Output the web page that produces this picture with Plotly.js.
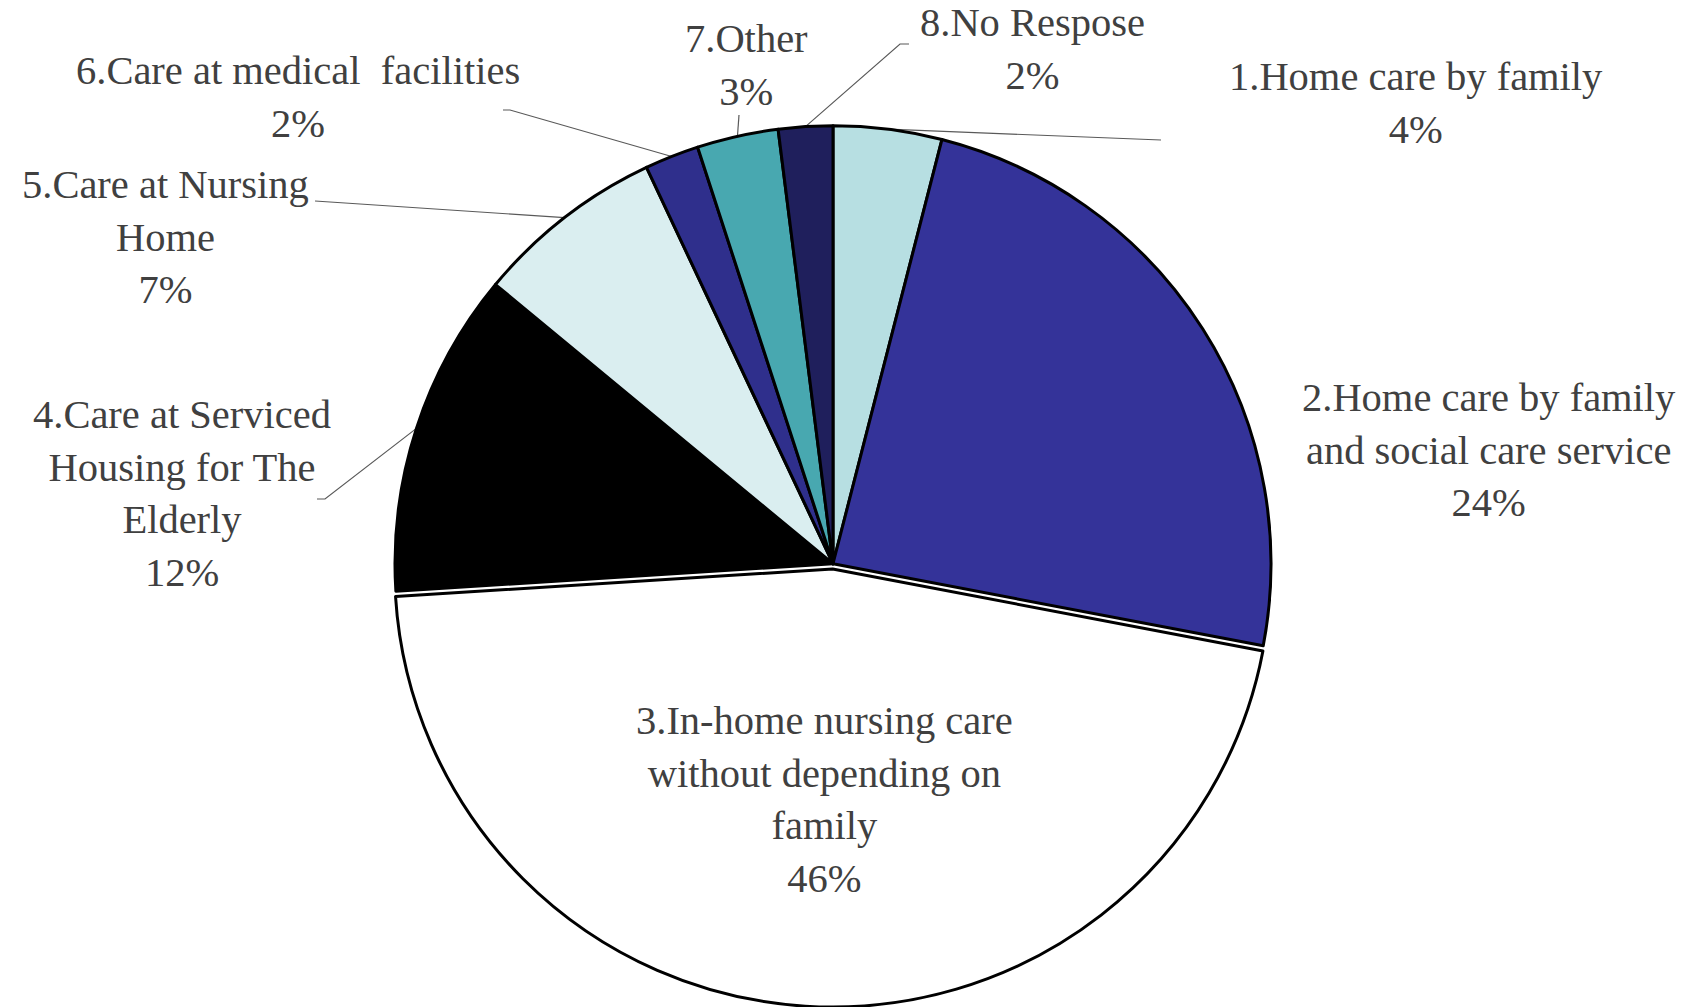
<!DOCTYPE html>
<html>
<head>
<meta charset="utf-8">
<script src="https://cdn.plot.ly/plotly-3.0.1.min.js"></script>
<style>html,body{margin:0;padding:0;background:#fff;}#chart{width:1701px;height:1007px;}</style>
</head>
<body>
<div id="chart"></div>
<script>
// ---- data ----
const categories = [
  "1.Home care by family",
  "2.Home care by family<br>and social care service",
  "3.In-home nursing care<br>without depending on<br>family",
  "4.Care at Serviced<br>Housing for The<br>Elderly",
  "5.Care at Nursing<br>Home",
  "6.Care at medical  facilities",
  "7.Other",
  "8.No Respose"
];
const values = [4, 24, 46, 12, 7, 2, 3, 2];
const percentLabels = ["4%", "24%", "46%", "12%", "7%", "2%", "3%", "2%"];
const sliceColors = ["#B7DFE2", "#343399", "#FFFFFF", "#000000", "#DAEEF0", "#2F2F8C", "#48A8B0", "#1F1F5C"];
const pulls = [0, 0, 0.012, 0, 0, 0, 0, 0];

// ---- layout geometry ----
const W = 1701, H = 1007;
const R = 438, CX = 833;
const maxPull = Math.max(...pulls);
const box = 2 * R * (1 + maxPull);
const domX = [(CX - box / 2) / W, (CX + box / 2) / W];
const domY = [0, box / H];
const CY = H - box / 2;

// label centres (px) and leader-line anchor paths (start points in px)
const labelPos = [
  [1416, 103], [1489, 450], [824, 799], [182, 493],
  [165, 237], [298, 97], [746, 65], [1032, 49]
];
const leaderStart = [
  [[1161, 140]],
  null,
  null,
  [[317, 499], [325, 499]],
  [[315, 201]],
  [[503, 110], [510, 110]],
  [[739, 115]],
  [[909, 44], [900, 44]]
];

const total = values.reduce((a, b) => a + b, 0);
let cum = 0;
const midAngles = values.map(v => { const m = (cum + v / 2) / total * 2 * Math.PI; cum += v; return m; });

const fontCfg = {family: "Liberation Serif, Times New Roman, serif", size: 40.5, color: "#404040"};
const annotations = categories.map((c, i) => ({
  text: c + "<br>" + percentLabels[i],
  xref: "paper", yref: "paper",
  x: labelPos[i][0] / W, y: 1 - labelPos[i][1] / H,
  xanchor: "center", yanchor: "middle",
  showarrow: false, align: "center", font: fontCfg
}));

const shapes = [];
leaderStart.forEach((pts, i) => {
  if (!pts) return;
  const a = midAngles[i];
  const ex = CX + R * Math.sin(a), ey = CY - R * Math.cos(a);
  let d = "";
  pts.forEach((p, k) => { d += (k === 0 ? "M" : " L") + (p[0] / W).toFixed(5) + "," + (1 - p[1] / H).toFixed(5); });
  d += " L" + (ex / W).toFixed(5) + "," + (1 - ey / H).toFixed(5);
  shapes.push({type: "path", xref: "paper", yref: "paper", path: d, line: {color: "#595959", width: 1.2}, layer: "below"});
});

const trace = {
  type: "pie",
  labels: categories,
  values: values,
  sort: false,
  direction: "clockwise",
  rotation: 0,
  pull: pulls,
  textinfo: "none",
  hoverinfo: "none",
  marker: {colors: sliceColors, line: {color: "#000000", width: 3}},
  domain: {x: domX, y: domY},
  showlegend: false
};

Plotly.newPlot("chart", [trace], {
  width: W, height: H,
  margin: {l: 0, r: 0, t: 0, b: 0},
  paper_bgcolor: "#ffffff",
  showlegend: false,
  annotations: annotations,
  shapes: shapes
}, {displayModeBar: false, staticPlot: true});
</script>
</body>
</html>
